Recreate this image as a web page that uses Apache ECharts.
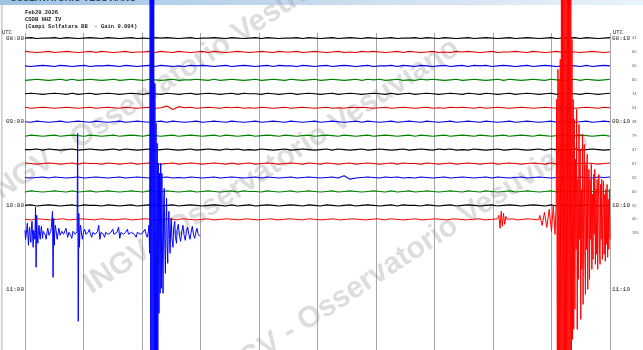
<!DOCTYPE html>
<html><head><meta charset="utf-8">
<script src="https://cdn.jsdelivr.net/npm/echarts@6/dist/echarts.min.js"></script>
<style>html,body{margin:0;padding:0;background:#fff;overflow:hidden}#c{width:643px;height:350px}</style>
</head><body><div id="c"></div>
<script>
// ---- data ----
const traceColors = ['#000000', '#e00000', '#0000e6', '#008000'];
const leftTimes = ['08:00', '09:00', '10:00', '11:00'];
const rightTimes = ['08:10', '09:10', '10:10', '11:10'];
const labelRows = [0, 6, 12, 18];
const rowMax = ['41','60','50','65','74','54','38','79','47','67','52','60','55','40','195'];
const headerLines = ['Feb20.2026', 'CSOB HHZ IV', '(Campi Solfatara BB  - Gain 0.004)'];
const watermark = 'INGV - Osservatorio Vesuviano';

// quiet background noise per 10-minute line (digit 3 = rest, read by eye)
const quietNoise = [
 "3423342432343243234232434323423343243234243233424323423432432342334243243234234323423432342334243234",
 "4323423432342432342334243243234243234323432433423432342324343234243234232434323423343243234243234323",
 "3234324323423343243234243232434323423432342433243234234323423342432432342342434234323423432343242343",
 "2343234242343234234324323423343242343234234324323423432342434234232434323423432342432343243234243234",
 "3432343242342343234324324323423432342433243234234323423432343242342343234324324323423432342433243234",
 "4234323432342343243234236053423432434232432342343234232434323423432342324343242343234323432342343243",
 "3243234234324323423432342432342343243234234324323423432342432342343243234234324323423432342432342343",
 "2432342343243234234324323423432342432342343243234234324323423432342432342343243234234324323423432342",
 "3342432342343234243234234323423432434232432342343234243234234323423432434232432342343234243234234323",
 "4323432342433243234234323423432343242342343234324324323423432342433243234234323423432343242342343234",
 "3234243234234323423432434232432342343234243234234323426023432434232432342343234243234234323423432434",
 "2432343242342343234324324323423432342433243234234323423432343242342343234324324323423432342433243234",
 "3423432342433243234234323423432343242342343234324324323423432342433243234234323423432343242342343234"
];
const row13QuietA = { from: 0, to: 8.08, str: "3243234234324323423432342432342343243234234324323423432342432342343243234234" };
const row13Burst = [[8.10,4],[8.12,-9],[8.14,8],[8.16,-7],[8.18,6],[8.20,-5],[8.22,3]];
const row13QuietB = { from: 8.24, to: 8.78, str: "3423432" };
// red line 10:10-10:20: quake at ~10:19
const row13Quake = [
 [8.80,4],[8.84,-6],[8.88,7],[8.92,-8],[8.96,10],[9.00,-12],[9.03,14],[9.06,-15],[9.08,16],
 [9.09,120],[9.10,-200],[9.11,150],[9.12,-250],[9.13,140],[9.14,-250],[9.15,160],[9.16,-260],
 [9.17,320],[9.18,-260],[9.19,300],[9.20,-250],[9.21,300],[9.22,-250],[9.23,280],[9.24,-240],
 [9.25,300],[9.26,-220],[9.27,280],[9.28,-200],[9.29,260],[9.30,-180],[9.31,240],[9.32,-170],
 [9.33,220],[9.34,-150],[9.35,180],[9.36,-120],[9.37,120],[9.38,-110],[9.39,100],[9.40,-90],
 [9.41,60],[9.42,-30],[9.43,110],[9.44,-110],[9.45,40],[9.46,-60],[9.47,95],[9.48,-20],
 [9.49,70],[9.50,-100],[9.51,30],[9.52,-50],[9.53,85],[9.54,-85],[9.55,20],[9.56,75],
 [9.57,-40],[9.58,-75],[9.59,55],[9.60,-30],[9.61,65],[9.62,-70],[9.63,15],[9.64,50],
 [9.65,-60],[9.66,40],[9.67,-20],[9.68,55],[9.69,-50],[9.70,25],[9.71,-40],[9.72,45],
 [9.73,-15],[9.74,50],[9.75,-45],[9.76,30],[9.77,-35],[9.78,40],[9.79,-50],[9.80,20],
 [9.81,45],[9.82,-30],[9.83,-45],[9.84,35],[9.85,-20],[9.86,40],[9.87,-40],[9.88,15],
 [9.89,38],[9.90,-35],[9.91,25],[9.92,-42],[9.93,30],[9.94,-25],[9.95,35],[9.96,-38],
 [9.97,20],[9.98,-30],[9.99,30],[10.0,-20]
];
// blue line 10:20-10:23 (last, partial)
const row14Trace = [
 [0.00,3],[0.01,-6],[0.02,-8],[0.03,4],[0.04,10],[0.05,-3],[0.06,-12],[0.07,2],[0.08,6],[0.09,-4],
 [0.10,-9],[0.11,5],[0.12,12],[0.13,-2],[0.14,-14],[0.15,3],[0.16,5],[0.17,-6],
 [0.18,26],[0.19,-34],[0.20,18],[0.21,-4],[0.22,-10],[0.23,3],[0.24,8],[0.25,-2],[0.26,-6],[0.27,2],[0.28,7],[0.30,-5],[0.31,2],[0.33,4],
 [0.35,-2],[0.36,-6],[0.38,2],[0.39,5],[0.41,-2],[0.42,-4],[0.44,2],[0.45,6],[0.47,22],[0.48,-44],[0.49,15],[0.50,-12],[0.51,3],[0.52,8],
 [0.54,-2],[0.55,-6],[0.57,2],[0.58,5],[0.60,-2],[0.61,-4],[0.63,2],[0.64,4],[0.66,-1],[0.67,-3],[0.69,1],[0.70,5],[0.72,-1],[0.73,-4],[0.75,1],[0.76,3],[0.78,-2],[0.80,-5],
 [0.82,2],[0.84,4],[0.86,-1],[0.88,-3],[0.89,2],[0.90,100],[0.91,-88],[0.92,20],[0.93,-14],[0.94,4],[0.95,8],[0.97,-2],[0.98,-6],[1.00,1],[1.02,4],
 [1.04,-1],[1.06,-3],[1.08,1],[1.10,4],[1.12,-1],[1.14,-4],[1.16,1],[1.18,3],[1.20,-1],[1.22,-3],[1.24,2],[1.26,8],[1.28,-6],[1.30,1],[1.32,3],[1.34,-1],[1.36,-4],
 [1.38,1],[1.40,3],[1.42,-1],[1.45,-3],[1.47,1],[1.50,4],[1.52,-1],[1.55,-3],[1.57,1],[1.60,6],[1.62,-5],[1.64,1],[1.66,3],[1.68,-1],[1.70,-3],[1.72,1],[1.75,4],
 [1.77,-1],[1.80,-3],[1.82,1],[1.85,3],[1.87,-1],[1.90,-4],[1.92,1],[1.95,3],[1.97,-1],[2.00,-3],[2.02,1],[2.05,4],[2.07,-1],[2.09,-4],[2.11,2],[2.12,8],[2.13,-20],
 [2.14,300],[2.15,-150],[2.16,320],[2.17,-200],[2.18,300],[2.19,-180],[2.20,280],[2.21,-160],
 [2.22,150],[2.23,-150],[2.24,110],[2.25,-140],[2.26,90],[2.27,-130],[2.28,70],[2.29,-80],
 [2.30,60],[2.31,-60],[2.32,70],[2.33,-55],[2.34,60],[2.35,-20],[2.36,-60],[2.37,30],[2.38,45],[2.39,-15],[2.40,-40],
 [2.41,10],[2.42,35],[2.43,-10],[2.44,-30],[2.45,8],[2.46,22],[2.47,-6],[2.48,-20],[2.49,5],[2.50,15],[2.51,-4],[2.53,-14],[2.54,4],[2.56,12],[2.57,-3],[2.59,-10],
 [2.60,3],[2.62,9],[2.64,-2],[2.66,-8],[2.68,2],[2.70,8],[2.72,-2],[2.74,-7],[2.76,2],[2.78,6],[2.80,-1],[2.82,-6],[2.84,1],[2.86,7],[2.88,-1],[2.90,-5],[2.92,1],[2.94,5],[2.96,-1],[2.99,-3]
];

// ---- layout constants ----
const TRACE_GAIN = 13.95;              // amplitude units per line spacing
const Y_MIN = -5 / TRACE_GAIN;
const Y_MAX = Y_MIN + 317 / TRACE_GAIN;
const NOISE_STEP = 0.55;

function decode(spec) {
  const n = spec.str.length, out = [];
  for (let i = 0; i < n; i++) {
    out.push([spec.from + i * (spec.to - spec.from) / (n - 1), (spec.str.charCodeAt(i) - 51) * NOISE_STEP]);
  }
  return out;
}
function toRow(row, pts) { return pts.map(p => [p[0], row - p[1] / TRACE_GAIN]); }

const series = [];
quietNoise.forEach((s, r) => {
  series.push({ type: 'line', data: toRow(r, decode({ from: 0, to: 10, str: s })), showSymbol: false, symbol: 'none',
    lineStyle: { color: traceColors[r % 4], width: 1.1 }, z: 2, silent: true, animation: false });
});
series.push({ type: 'line', clip: false, symbol: 'none', showSymbol: false, silent: true, animation: false, z: 3,
  data: toRow(13, [].concat(decode(row13QuietA), row13Burst, decode(row13QuietB), row13Quake)),
  lineStyle: { color: '#ff0000', width: 1 } });
series.push({ type: 'line', clip: false, symbol: 'none', showSymbol: false, silent: true, animation: false, z: 4,
  data: toRow(14, row14Trace), lineStyle: { color: '#0000ff', width: 1 } });

const labelFont = { fontFamily: 'Liberation Mono', fontSize: 6, color: '#222' };
const wmStyle = (t) => ({ text: t, fill: 'rgba(150,150,150,0.32)', fontSize: 30, fontWeight: 'bold',
  fontFamily: 'Liberation Sans', textAlign: 'left', textVerticalAlign: 'bottom' });

const option = {
  animation: false,
  grid: { left: 25, right: 33, top: 33, bottom: 0, show: false },
  xAxis: { type: 'value', min: 0, max: 10, interval: 1, position: 'top',
    axisLine: { show: true, lineStyle: { color: '#999', width: 1 } },
    axisTick: { show: false }, axisLabel: { show: false },
    splitLine: { show: true, showMinLine: true, showMaxLine: true, lineStyle: { color: '#a6a6a6', width: 1 } } },
  yAxis: [
    { type: 'value', inverse: true, min: Y_MIN, max: Y_MAX, position: 'left',
      axisLine: { show: false }, axisTick: { show: false }, splitLine: { show: false },
      axisLabel: Object.assign({ customValues: labelRows, margin: 1,
        formatter: v => leftTimes[labelRows.indexOf(v)] || '' }, labelFont) },
    { type: 'value', inverse: true, min: Y_MIN, max: Y_MAX, position: 'right',
      axisLine: { show: false }, axisTick: { show: false }, splitLine: { show: false },
      axisLabel: Object.assign({ customValues: labelRows, margin: 2,
        formatter: v => rightTimes[labelRows.indexOf(v)] || '' }, labelFont) },
    { type: 'value', inverse: true, min: Y_MIN, max: Y_MAX, position: 'right',
      axisLine: { show: false }, axisTick: { show: false }, splitLine: { show: false },
      axisLabel: { customValues: rowMax.map((_, i) => i), margin: 22, fontFamily: 'Liberation Sans', fontSize: 4, color: '#555',
        formatter: v => rowMax[Math.round(v)] || '' } }
  ],
  graphic: [
    { type: 'rect', shape: { x: 0, y: 0, width: 643, height: 5 }, z: 0,
      style: { fill: { type: 'linear', x: 0, y: 0, x2: 1, y2: 0,
        colorStops: [{ offset: 0, color: '#9fc2e4' }, { offset: 0.6, color: '#cfe0f1' }, { offset: 1, color: '#eaf2fa' }] } } },
    { type: 'text', x: 10, y: 3, z: 1, style: { text: 'OSSERVATORIO VESUVIANO', fill: '#2b4766', fontSize: 9, fontWeight: 'bold',
      fontFamily: 'Liberation Sans', textAlign: 'left', textVerticalAlign: 'bottom' } },
    { type: 'rect', shape: { x: 1.5, y: 5, width: 0.8, height: 345 }, z: 0, style: { fill: '#999' } },
    { type: 'text', x: 25, y: 13, z: 1, style: { text: headerLines[0], fill: '#222', fontSize: 5.5, fontWeight: 'bold', fontFamily: 'Liberation Mono', textAlign: 'left', textVerticalAlign: 'middle' } },
    { type: 'text', x: 25, y: 20, z: 1, style: { text: headerLines[1], fill: '#222', fontSize: 5.5, fontWeight: 'bold', fontFamily: 'Liberation Mono', textAlign: 'left', textVerticalAlign: 'middle' } },
    { type: 'text', x: 25, y: 27, z: 1, style: { text: headerLines[2], fill: '#222', fontSize: 5.5, fontWeight: 'bold', fontFamily: 'Liberation Mono', textAlign: 'left', textVerticalAlign: 'middle' } },
    { type: 'text', x: 2, y: 33, z: 1, style: { text: 'UTC', fill: '#222', fontSize: 5.5, fontFamily: 'Liberation Mono', textAlign: 'left', textVerticalAlign: 'middle' } },
    { type: 'text', x: 613, y: 33, z: 1, style: { text: 'UTC', fill: '#222', fontSize: 5.5, fontFamily: 'Liberation Mono', textAlign: 'left', textVerticalAlign: 'middle' } },
    { type: 'text', x: -2, y: 210, rotation: 0.58, z: 1, style: wmStyle(watermark) },
    { type: 'text', x: 95, y: 300, rotation: 0.58, z: 1, style: wmStyle(watermark) },
    { type: 'text', x: 225, y: 392, rotation: 0.58, z: 1, style: wmStyle(watermark) }
  ],
  series: series
};
const chart = echarts.init(document.getElementById('c'), null, { renderer: 'canvas' });
chart.setOption(option);
</script></body></html>
